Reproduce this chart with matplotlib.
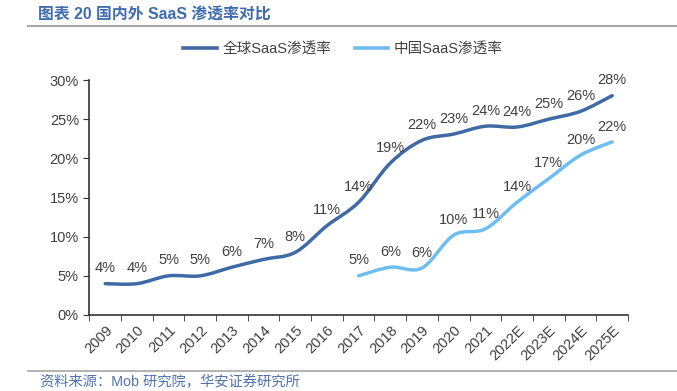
import numpy as np
import matplotlib
matplotlib.use('Agg')
from matplotlib import pyplot as plt
from matplotlib.path import Path
from matplotlib.patches import PathPatch
from matplotlib.lines import Line2D

plt.rcParams['font.family'] = ['Liberation Sans', 'Noto Sans CJK SC']

# 数据
years = ['2009', '2010', '2011', '2012', '2013', '2014', '2015', '2016', '2017',
         '2018', '2019', '2020', '2021', '2022E', '2023E', '2024E', '2025E']
global_rate = [4.0, 4.0, 5.0, 5.0, 6.1, 7.1, 8.0, 11.4, 14.4,
               19.4, 22.3, 23.1, 24.1, 24.0, 25.0, 26.0, 28.0]
china_years = years[8:]
china_rate = [5.0, 6.1, 6.0, 10.2, 11.0, 14.4, 17.4, 20.4, 22.1]

dark = '#3F6AA6'
light = '#6EBDF0'
txt = '#404040'


def smooth_path(xs, ys):
    # Excel 风格的平滑曲线（贝塞尔）
    pts = np.column_stack([xs, ys])
    n = len(pts)
    verts = [pts[0]]
    codes = [Path.MOVETO]
    for i in range(n - 1):
        p0 = pts[max(i - 1, 0)]
        p1 = pts[i]
        p2 = pts[i + 1]
        p3 = pts[min(i + 2, n - 1)]
        c1 = p1 + (p2 - p0) / 6
        c2 = p2 - (p3 - p1) / 6
        verts += [c1, c2, p2]
        codes += [Path.CURVE4] * 3
    return Path(verts, codes)


fig = plt.figure(figsize=(6.77, 3.91), dpi=100)
ax = fig.add_axes([89.3 / 677, 1 - 315 / 391, (628 - 89.3) / 677, (315 - 80) / 391])

x_all = np.arange(len(years))
x_cn = np.arange(8, len(years))

for xs, ys, c in [(x_all, global_rate, dark), (x_cn, china_rate, light)]:
    p = smooth_path(xs, ys)
    ax.add_patch(PathPatch(p, fill=False, edgecolor=c, lw=2.5, capstyle='round'))
    for x, y in zip(xs, ys):
        ax.annotate('%d%%' % int(y), (x, y), xytext=(0, 6), textcoords='offset points',
                    ha='center', va='bottom', fontsize=10.5, color=txt)

ax.set_xlim(-0.5, len(years) - 0.5)
ax.set_ylim(0, 30)
ax.set_yticks(range(0, 31, 5))
ax.set_yticklabels(['%d%%' % v for v in range(0, 31, 5)])
ax.set_xticks(x_all)
ax.set_xticklabels(years, rotation=45, ha='right', va='top', rotation_mode='anchor')
ax.set_xticks(np.arange(-0.5, len(years), 1), minor=True)
ax.tick_params(axis='x', which='major', length=0, pad=6, labelsize=10.5, labelcolor=txt)
ax.tick_params(axis='x', which='minor', length=4, direction='out', color='#333333')
ax.tick_params(axis='y', length=4, direction='out', labelsize=10.5, labelcolor=txt, color='#333333')
for s in ['top', 'right']:
    ax.spines[s].set_visible(False)
for s in ['left', 'bottom']:
    ax.spines[s].set_color('#333333')
    ax.spines[s].set_linewidth(1.2)

# 图例
handles = [Line2D([], [], color=dark, lw=2.6), Line2D([], [], color=light, lw=2.6)]
fig.legend(handles, ['全球SaaS渗透率', '中国SaaS渗透率'], ncol=2, loc='center',
           bbox_to_anchor=(343 / 677, 1 - 49 / 391), frameon=False, fontsize=10.5,
           handlelength=2.3, handletextpad=0.4, columnspacing=1.6, labelcolor=txt)

# 标题和来源
fig.text(38 / 677, 1 - 15 / 391, '图表 20 国内外 SaaS 渗透率对比', fontsize=11.4,
         fontweight='bold', color='#3F6CAC', va='center', ha='left')
fig.add_artist(Line2D([28 / 677, 1], [1 - 26 / 391, 1 - 26 / 391], color='#A6A6A6', lw=1.5))
fig.add_artist(Line2D([28 / 677, 1], [1 - 370.7 / 391, 1 - 370.7 / 391], color='#A6A6A6', lw=1.2))
fig.text(40 / 677, 1 - 382 / 391, '资料来源：Mob 研究院，华安证券研究所', fontsize=10.3,
         color='#4F73AE', va='center', ha='left')

fig.savefig('out.png', dpi=100)
